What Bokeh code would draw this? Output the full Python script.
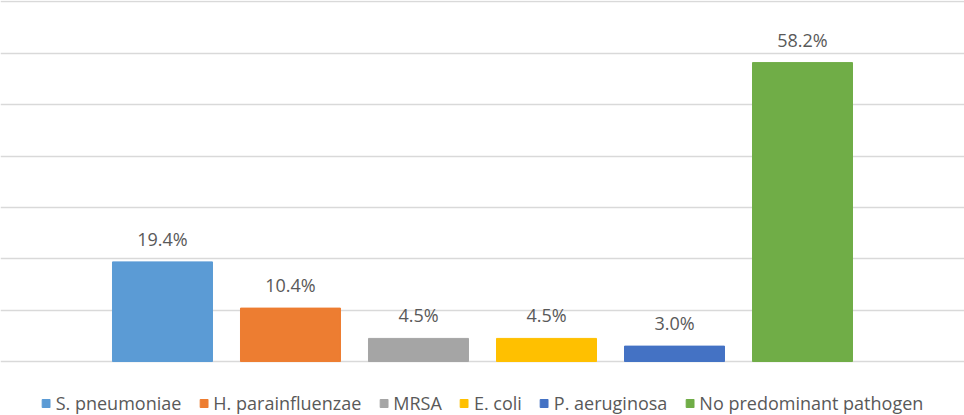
from bokeh.plotting import figure
from bokeh.models import ColumnDataSource, Legend, LegendItem, Grid, FixedTicker, Range1d
from bokeh.embed import file_html
from bokeh.resources import INLINE
from bokeh.core.properties import value

categories = ["S. pneumoniae", "H. parainfluenzae", "MRSA", "E. coli",
              "P. aeruginosa", "No predominant pathogen"]
values = [19.4, 10.4, 4.5, 4.5, 3.0, 58.2]
labels = ["19.4%", "10.4%", "4.5%", "4.5%", "3.0%", "58.2%"]
colors = ["#5B9BD5", "#ED7D31", "#A5A5A5", "#FFC000", "#4472C4", "#70AD47"]
y_ticks = [0, 10, 20, 30, 40, 50, 60, 70]

FONT = "Open Sans"
x = list(range(len(categories)))
src = ColumnDataSource(dict(x=x, top=values, label=labels, color=colors, name=categories))

# frame covers the whole figure; the space below 0 holds the legend
p = figure(width=964, height=415, output_backend="svg", toolbar_location=None,
           x_range=Range1d(-1.2656, 6.2656), y_range=Range1d(-10.51, 70.29),
           x_axis_type=None, y_axis_type=None,
           min_border_left=0, min_border_right=0, min_border_top=0, min_border_bottom=0)
p.outline_line_color = None
p.add_layout(Grid(dimension=1, ticker=FixedTicker(ticks=y_ticks),
                  grid_line_color="#D9D9D9", grid_line_width=1.5))

r = p.vbar(x='x', top='top', bottom=0, width=0.78125, source=src,
           fill_color='color', line_color='color')
p.text(x='x', y='top', text='label', source=src, text_align='center',
       text_baseline='alphabetic', y_offset=-23, text_font=value(FONT),
       text_font_size="18px", text_color="#595959")

items = [LegendItem(label=c, renderers=[r], index=i) for i, c in enumerate(categories)]
legend = Legend(items=items, orientation="horizontal", location="bottom_center",
                glyph_width=10, glyph_height=10, label_standoff=5, spacing=17,
                padding=0, margin=0, border_line_color=None, background_fill_alpha=0,
                label_text_font=FONT, label_text_font_size="18px",
                label_text_color="#595959")
p.add_layout(legend, "center")

open("out.html", "w").write(file_html(p, INLINE))
